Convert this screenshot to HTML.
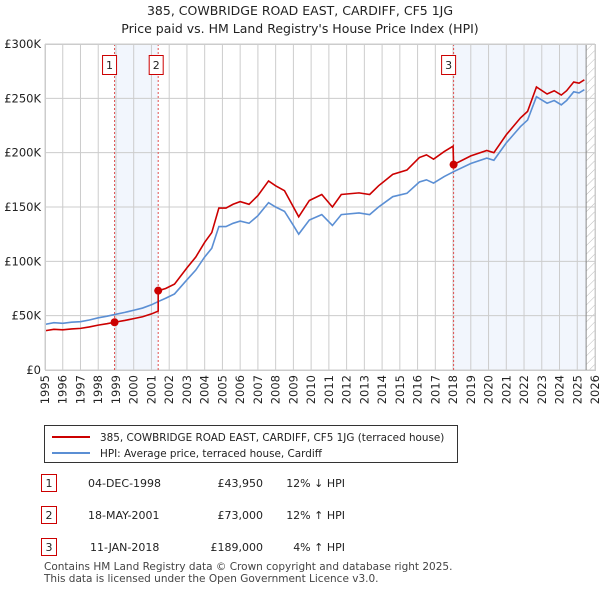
<!DOCTYPE html>
<html><head><meta charset="utf-8"><style>
body{margin:0;background:#fff;font-family:"Liberation Sans","DejaVu Sans",sans-serif;}
svg text{font-family:"DejaVu Sans","Liberation Sans",sans-serif;}
</style></head><body>
<svg id="c" width="600" height="590" viewBox="0 0 600 590" xmlns="http://www.w3.org/2000/svg">
<defs><pattern id="hatch" width="6" height="6" patternUnits="userSpaceOnUse" patternTransform="rotate(45)"><line x1="0" y1="0" x2="0" y2="6" stroke="#bbb" stroke-width="1"/></pattern></defs>
<text x="300" y="15" text-anchor="middle" font-size="12.5" fill="#222">385, COWBRIDGE ROAD EAST, CARDIFF, CF5 1JG</text>
<text x="300" y="33" text-anchor="middle" font-size="12.5" fill="#222">Price paid vs. HM Land Registry's House Price Index (HPI)</text>
<g id="plot"></g>
<g>
<rect x="44.5" y="425.5" width="413" height="37" fill="#fff" stroke="#333"/>
<line x1="52" y1="437" x2="90" y2="437" stroke="#cc0000" stroke-width="2"/>
<text x="100" y="441" font-size="10.4" fill="#222">385, COWBRIDGE ROAD EAST, CARDIFF, CF5 1JG (terraced house)</text>
<line x1="52" y1="453" x2="90" y2="453" stroke="#5b8fd4" stroke-width="2"/>
<text x="100" y="457" font-size="10.4" fill="#222">HPI: Average price, terraced house, Cardiff</text>
</g>
<g font-size="11" fill="#222">
<rect x="41.5" y="474.5" width="15" height="17" fill="#fff" stroke="#cc0000"/><text x="49" y="487" text-anchor="middle">1</text>
<text x="88" y="487">04-DEC-1998</text><text x="263" y="487" text-anchor="end">£43,950</text><text x="345" y="487" text-anchor="end">12% ↓ HPI</text>
<rect x="41.5" y="506.5" width="15" height="17" fill="#fff" stroke="#cc0000"/><text x="49" y="519" text-anchor="middle">2</text>
<text x="88" y="519">18-MAY-2001</text><text x="263" y="519" text-anchor="end">£73,000</text><text x="345" y="519" text-anchor="end">12% ↑ HPI</text>
<rect x="41.5" y="538.5" width="15" height="17" fill="#fff" stroke="#cc0000"/><text x="49" y="551" text-anchor="middle">3</text>
<text x="90" y="551">11-JAN-2018</text><text x="263" y="551" text-anchor="end">£189,000</text><text x="345" y="551" text-anchor="end">4% ↑ HPI</text>
</g>
<text x="44" y="570" font-size="10.5" fill="#444">Contains HM Land Registry data © Crown copyright and database right 2025.</text>
<text x="44" y="582" font-size="10.5" fill="#444">This data is licensed under the Open Government Licence v3.0.</text>
</svg>
<script>
const years=[1995,1996,1997,1998,1999,2000,2001,2002,2003,2004,2005,2006,2007,2008,2009,2010,2011,2012,2013,2014,2015,2016,2017,2018,2019,2020,2021,2022,2023,2024,2025,2026];
const yTicks=[0,50000,100000,150000,200000,250000,300000];
const yTickLabels=["£0","£50K","£100K","£150K","£200K","£250K","£300K"];
const hpiDates=[1995,1995.5,1996,1996.5,1997,1997.5,1998,1998.5,1998.92,1999.5,2000,2000.5,2001,2001.38,2001.8,2002.3,2003,2003.5,2004,2004.4,2004.8,2005.2,2005.6,2006,2006.5,2007,2007.6,2008,2008.5,2009,2009.3,2009.9,2010.6,2011.2,2011.7,2012.7,2013.3,2013.8,2014.6,2015.4,2016.1,2016.5,2016.9,2017.5,2018.03,2019,2019.9,2020.3,2021,2021.8,2022.2,2022.7,2023.3,2023.7,2024.1,2024.4,2024.8,2025.1,2025.4];
const hpiValues=[42,43.5,43,44,44.5,46,48,49.5,51,53,55,57,60,63,66,70,83,92,104,112,132,132,135,137,135,142,154,150,146,133,125,138,143,133,143,144.5,143,150,159.5,162.6,173,175,172,178,182.5,190,195,193,209,224,230,251.5,245.5,248,244,248,256,255,258];
const priceDates=[1995,1995.5,1996,1996.5,1997,1997.5,1998,1998.5,1998.92,1999.5,2000,2000.5,2001,2001.38,2001.38,2001.8,2002.3,2003,2003.5,2004,2004.4,2004.8,2005.2,2005.6,2006,2006.5,2007,2007.6,2008,2008.5,2009,2009.3,2009.9,2010.6,2011.2,2011.7,2012.7,2013.3,2013.8,2014.6,2015.4,2016.1,2016.5,2016.9,2017.5,2018.0,2018.03,2019,2019.9,2020.3,2021,2021.8,2022.2,2022.7,2023.3,2023.7,2024.1,2024.4,2024.8,2025.1,2025.4];
const priceValues=[36.1,37.4,37,37.8,38.3,39.6,41.3,42.6,43.95,45.6,47.3,49,51.6,54.2,73,75,79,94,104,117.5,126.5,149,149,152.5,155,152.5,160.5,174,169.5,165,150,141,156,161.5,150,161.5,163,161.5,169.5,180,184,195.5,198,194,201,206,189,197,202,200,216.5,232,238,260.5,254,257,253,257,265,264,267];
const saleLabels=["1","2","3"];
const saleDates=[1998.92,2001.38,2018.03];
const salePrices=[43.95,73,189];
const NS="http://www.w3.org/2000/svg";
const L=45,R=595,T=44,B=370,x0=1995,x1=2026,yMax=300000;
const xs=t=>L+(t-x0)/(x1-x0)*(R-L);
const ys=v=>B-v/yMax*(B-T);
const plot=document.getElementById('plot');
function mk(tag,attrs,parent){const e=document.createElementNS(NS,tag);for(const k in attrs)e.setAttribute(k,attrs[k]);(parent||plot).appendChild(e);return e;}
let e;
e=mk('rect',{x:xs(saleDates[0]),y:T,width:xs(saleDates[1])-xs(saleDates[0]),height:B-T,fill:'#f2f6fd'});


e=mk('rect',{x:xs(saleDates[2]),y:T,width:xs(2025.5)-xs(saleDates[2]),height:B-T,fill:'#f2f6fd'});


e=mk('rect',{x:xs(2025.5),y:T,width:R-xs(2025.5),height:B-T,fill:'url(#hatch)'});


years.forEach(y=>{
 e=mk('line',{x1:xs(y),x2:xs(y),y1:T,y2:B,stroke:'#cccccc','stroke-width':1});
 
 
 e=mk('text',{transform:`translate(${xs(y)+4},375) rotate(-90)`,'text-anchor':'end','font-size':11.5,fill:'#222'});
 e.textContent=y;
 
 
});
yTicks.forEach((v,i)=>{
 e=mk('line',{x1:L,x2:R,y1:ys(v),y2:ys(v),stroke:'#cccccc','stroke-width':1});
 
 
 e=mk('text',{x:L-4,y:ys(v)+4,'text-anchor':'end','font-size':11.5,fill:'#222'});
 e.textContent=yTickLabels[i];
 
 
});
e=mk('line',{x1:xs(2025.5),x2:xs(2025.5),y1:T,y2:B,stroke:'#888','stroke-width':1});


saleDates.forEach((d,i)=>{
 e=mk('line',{x1:xs(d),x2:xs(d),y1:T,y2:B,stroke:'#e05050','stroke-width':1,'stroke-dasharray':'2,2'});
 
 
});
e=mk('polyline',{points:hpiDates.map((d,i)=>xs(d)+','+ys(hpiValues[i]*1000)).join(' '),fill:'none',stroke:'#5b8fd4','stroke-width':1.6});


e=mk('polyline',{points:priceDates.map((d,i)=>xs(d)+','+ys(priceValues[i]*1000)).join(' '),fill:'none',stroke:'#cc0000','stroke-width':1.6});


saleDates.forEach((d,i)=>{
 e=mk('circle',{cx:xs(d),cy:ys(salePrices[i]*1000),r:4,fill:'#cc0000'});
 
 
 e=mk('rect',{x:xs(d)-(i==1?9:12),y:55.5,width:14,height:19,fill:'#fff',stroke:'#cc0000'});
 
 
 e=mk('text',{x:xs(d)-(i==1?2:5),y:69,'text-anchor':'middle','font-size':11,fill:'#222'});
 e.textContent=saleLabels[i];
 
 
});
e=mk('rect',{x:L+0.5,y:T+0.5,width:R-L,height:B-T,fill:'none',stroke:'#ccc'});


</script>
</body></html>
